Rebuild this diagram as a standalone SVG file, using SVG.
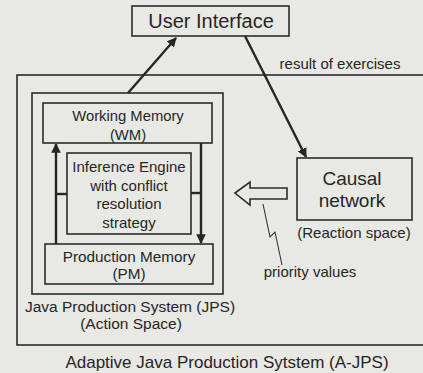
<svg xmlns="http://www.w3.org/2000/svg" width="423" height="373" viewBox="0 0 423 373">
<style>
.bg{fill:#e8e8e4}
.box{fill:none;stroke:#2b2b2b;stroke-width:1.6}
.t{font-family:"Liberation Sans",Arial,sans-serif;fill:#262626;text-anchor:middle}
.conn{stroke:#262626;stroke-width:2.4;fill:none}
.thin{stroke:#333;stroke-width:1.1;fill:none}
</style>
<defs>
<marker id="ah" viewBox="0 0 10 10" refX="9" refY="5" markerWidth="4" markerHeight="4" orient="auto" markerUnits="strokeWidth">
<path d="M0,0 L10,5 L0,10 z" fill="#262626"/>
</marker>
</defs>
<rect class="bg" x="0" y="0" width="423" height="373"/>

<g id="aJPS">
<rect class="box" x="17" y="75" width="420" height="270"/>
<text class="t" x="227" y="368" font-size="17">Adaptive Java Production Sytstem (A-JPS)</text>
</g>

<g id="resultLabel">
<text class="t" x="340" y="69" font-size="15">result of exercises</text>
</g>

<g id="userInterface">
<rect class="box" x="132" y="6" width="157" height="30"/>
<text class="t" x="211" y="28" font-size="20">User Interface</text>
</g>

<g id="jps">
<rect class="box" x="32" y="93" width="191" height="201"/>
<text class="t" x="130" y="312" font-size="15.5">Java Production System (JPS)</text>
<text class="t" x="131" y="329" font-size="15.5">(Action Space)</text>
</g>

<g id="wm">
<rect class="box" x="43" y="103" width="169" height="40"/>
<text class="t" x="128" y="121" font-size="14.8">Working Memory</text>
<text class="t" x="128" y="140" font-size="14.8">(WM)</text>
</g>

<g id="ie">
<rect class="box" x="67" y="153" width="124" height="81"/>
<text class="t" x="129" y="172" font-size="15">Inference Engine</text>
<text class="t" x="129" y="191" font-size="15">with conflict</text>
<text class="t" x="129" y="209" font-size="15">resolution</text>
<text class="t" x="129" y="228" font-size="15">strategy</text>
</g>

<g id="pm">
<rect class="box" x="45" y="244" width="168" height="40"/>
<text class="t" x="129" y="262" font-size="15.3">Production Memory</text>
<text class="t" x="129" y="279" font-size="15.3">(PM)</text>
</g>

<g id="causal">
<rect class="box" x="297" y="158" width="115" height="62"/>
<text class="t" x="352" y="185" font-size="19">Causal</text>
<text class="t" x="352" y="207" font-size="19">network</text>
<text class="t" x="354" y="238" font-size="15">(Reaction space)</text>
</g>

<g id="priority">
<path d="M235,193 L250,182 L250,188 L287,188 L287,199 L250,199 L250,205 Z" fill="none" stroke="#2b2b2b" stroke-width="1.6" stroke-linejoin="miter"/>
<path class="thin" d="M263,204 L270,237 L275,232 L282,265"/>
<text class="t" x="310" y="277" font-size="15">priority values</text>
</g>

<g id="connectors">
<line class="conn" x1="128" y1="93" x2="176" y2="38" marker-end="url(#ah)"/>
<line class="conn" x1="245" y1="36" x2="306" y2="157" marker-end="url(#ah)"/>
<line class="conn" x1="56" y1="244" x2="56" y2="144" marker-end="url(#ah)"/>
<line class="conn" x1="201" y1="143" x2="201" y2="243" marker-end="url(#ah)"/>
<line class="conn" x1="56" y1="194" x2="67" y2="194"/>
<line class="conn" x1="191" y1="193" x2="201" y2="193"/>
</g>
</svg>
